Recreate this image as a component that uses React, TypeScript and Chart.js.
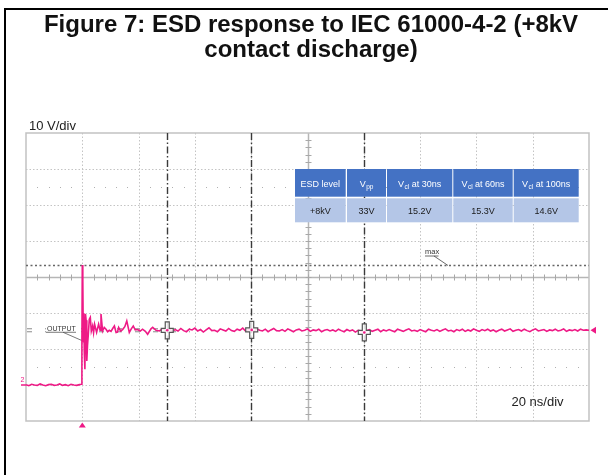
import React, { useEffect, useRef } from 'react';
import { Chart, registerables } from 'chart.js';

Chart.register(...registerables);

// ---------- data ----------
const titleLines = ['Figure 7: ESD response to IEC 61000-4-2 (+8kV', 'contact discharge)'];
const xMin = -20;
const xMax = 180;
const xStep = 20; // ns per division
const yMin = -10;
const yMax = 70;
const yStep = 10; // V per division
const centerTime = 80;
const centerVolt = 30;
const cursorTimes = [30, 60, 100];
const cursorVolts = [15.2, 15.3, 14.6];
const maxVolt = 33.3;
const outputLevel = 15.2;
const dotRowVolts = [5, 55];

const preTriggerStart = -20;
const preTriggerVolts = [0.1, -0.2, 0.2, 0.0, -0.1, 0.3, 0.0, -0.2, 0.1, 0.2, -0.1, 0.0, 0.3, -0.1, 0.1, -0.2, 0.2, 0.0, -0.1, 0.1];

const ringTimes = [-0.36, -0.14, 0, 0.18, 0.36, 0.53, 0.71, 0.92, 1.14, 1.35, 1.6, 1.85, 2.13, 2.49, 2.84, 3.2, 3.66, 4.0, 4.37, 5.08, 5.79, 6.3, 6.64, 7.21, 7.8, 8.42, 9.0, 9.6, 10.2, 10.8, 11.4, 12.0, 12.5, 12.9, 13.6, 14.3, 15.1, 15.8, 16.7, 17.4, 18.1, 18.8, 19.6, 20.6, 21.4, 22.4, 23.2, 24.4, 25.0, 26.2, 27.4, 28.5, 29.4];
const ringVolts = [0.2, 12, 33.3, 28.9, 12, 20, 9, 4.4, 19.7, 18, 6.7, 11, 14, 18.3, 18.8, 15, 16.4, 14.5, 16.9, 14.6, 16.9, 15.2, 19.7, 15.0, 16.0, 15.5, 14.8, 15.2, 14.9, 15.7, 16.4, 14.6, 14.7, 16.0, 15.0, 15.4, 16.2, 17.8, 14.6, 15.6, 16.4, 15.3, 15.4, 15.0, 15.5, 14.9, 14.1, 15.6, 16.0, 15.2, 15.0, 15.6, 15.3];

const settledStart = 30;
const settledVolts = [
  15.2, 15.6, 14.9, 15.4, 15.0, 15.7, 15.1, 14.8, 15.5, 15.3,
  15.8, 15.0, 15.4, 14.7, 15.3, 15.9, 15.1, 15.2, 14.8, 15.6,
  15.3, 15.0, 15.7, 15.1, 14.9, 15.5, 15.2, 15.8, 15.0, 15.4,
  15.3, 14.9, 15.6, 15.2, 15.0, 15.5, 14.8, 15.3, 15.7, 15.1,
  15.0, 15.4, 14.9, 15.6, 15.2, 14.8, 15.3, 15.5, 15.0, 15.2,
  15.6, 14.9, 15.3, 15.1, 15.5, 14.8, 15.2, 15.4, 15.0, 15.3,
  14.9, 15.5, 15.1, 14.8, 15.4, 15.0, 15.3, 14.7, 15.2, 15.0,
  14.6, 15.1, 15.4, 14.9, 15.2, 15.5, 14.8, 15.3, 15.0, 15.4,
  15.1, 14.8, 15.5, 15.2, 14.9, 15.3, 15.6, 15.0, 15.2, 14.9,
  15.4, 15.1, 14.8, 15.5, 15.2, 15.0, 15.4, 14.9, 15.3, 15.6,
  15.0, 15.2, 14.8, 15.4, 15.1, 15.5, 14.9, 15.3, 15.0, 15.6,
  15.2, 14.9, 15.4, 15.1, 15.5, 15.0, 15.3, 14.8, 15.2, 15.5,
  15.0, 15.3, 15.6, 14.9, 15.2, 15.4, 15.0, 15.5, 15.1, 14.8,
  15.3, 15.6, 15.0, 15.2, 15.4, 14.9, 15.3, 15.1, 15.5, 15.0,
  15.2, 15.6, 14.9, 15.3, 15.1, 15.4, 15.0, 15.5, 15.2, 15.3,
  15.2,
];

// table: [main, subscript, rest]
const tableHeaders: [string, string, string][] = [
  ['ESD level', '', ''],
  ['V', 'pp', ''],
  ['V', 'cl', ' at 30ns'],
  ['V', 'cl', ' at 60ns'],
  ['V', 'cl', ' at 100ns'],
];
const tableValues = ['+8kV', '33V', '15.2V', '15.3V', '14.6V'];

const voltLabel = '10 V/div';
const timeLabel = '20 ns/div';
const maxLabel = 'max';
const outputLabel = 'OUTPUT';
const channelLabel = '2';

// ---------- style ----------
const FONT = '"Liberation Sans", Arial, Helvetica, sans-serif';
const PINK = '#ee1a86';

const tracePoints = [
  ...preTriggerVolts.map((v, i) => ({ x: preTriggerStart + i, y: v })),
  ...ringTimes.map((t, i) => ({ x: t, y: ringVolts[i] })),
  ...settledVolts.map((v, i) => ({ x: settledStart + i, y: v })),
];

function line(ctx: CanvasRenderingContext2D, x1: number, y1: number, x2: number, y2: number) {
  ctx.beginPath();
  ctx.moveTo(x1, y1);
  ctx.lineTo(x2, y2);
  ctx.stroke();
}

function drawRich(ctx: CanvasRenderingContext2D, parts: [string, string, string], cx: number, baseline: number, color: string) {
  const mainFont = `9px ${FONT}`;
  const subFont = `6.5px ${FONT}`;
  ctx.font = mainFont;
  const w1 = ctx.measureText(parts[0]).width;
  const w3 = ctx.measureText(parts[2]).width;
  ctx.font = subFont;
  const w2 = parts[1] ? ctx.measureText(parts[1]).width + 0.5 : 0;
  const total = w1 + w2 + w3;
  let x0 = cx - total / 2;
  ctx.fillStyle = color;
  ctx.textAlign = 'left';
  ctx.textBaseline = 'alphabetic';
  ctx.font = mainFont;
  ctx.fillText(parts[0], x0, baseline);
  x0 += w1;
  if (parts[1]) {
    ctx.font = subFont;
    ctx.fillText(parts[1], x0 + 0.5, baseline + 2.5);
    x0 += w2;
  }
  ctx.font = mainFont;
  ctx.fillText(parts[2], x0, baseline);
}

const scopePlugin = {
  id: 'scopeGraticule',
  beforeDatasetsDraw(chart: any) {
    const { ctx, chartArea: a, scales } = chart;
    const xs = scales.x;
    const ys = scales.y;
    ctx.save();

    // outer figure border (top and left)
    ctx.fillStyle = '#000';
    ctx.fillRect(4, 8, 604, 2);
    ctx.fillRect(4, 8, 2, 467);

    // title
    ctx.fillStyle = '#111';
    ctx.font = `bold 24px ${FONT}`;
    ctx.textAlign = 'center';
    ctx.textBaseline = 'alphabetic';
    ctx.fillText(titleLines[0], 311, 31.5);
    ctx.fillText(titleLines[1], 311, 57);

    // dotted grid
    ctx.strokeStyle = '#c4c4c4';
    ctx.lineWidth = 1;
    ctx.setLineDash([1.5, 2]);
    for (let t = xMin + xStep; t < xMax; t += xStep) {
      if (t === centerTime) continue;
      const px = Math.round(xs.getPixelForValue(t)) + 0.5;
      line(ctx, px, a.top, px, a.bottom);
    }
    for (let v = yMin + yStep; v < yMax; v += yStep) {
      if (v === centerVolt) continue;
      const py = Math.round(ys.getPixelForValue(v)) + 0.5;
      line(ctx, a.left, py, a.right, py);
    }
    ctx.setLineDash([]);

    // minor dot rows
    ctx.fillStyle = '#b0b0b0';
    const minorX = xStep / 5;
    for (const v of dotRowVolts) {
      const py = Math.round(ys.getPixelForValue(v));
      for (let t = xMin + minorX; t < xMax; t += minorX) {
        if (Math.abs(t / xStep - Math.round(t / xStep)) < 1e-6) continue;
        ctx.fillRect(Math.round(xs.getPixelForValue(t)), py, 1, 1);
      }
    }

    // center axes with ticks
    const cx = Math.round(xs.getPixelForValue(centerTime)) + 0.5;
    const cy = Math.round(ys.getPixelForValue(centerVolt)) + 0.5;
    ctx.strokeStyle = '#b6b6b6';
    ctx.lineWidth = 1.5;
    line(ctx, a.left, cy, a.right, cy);
    line(ctx, cx, a.top, cx, a.bottom);
    ctx.strokeStyle = '#a8a8a8';
    ctx.lineWidth = 1;
    for (let t = xMin + minorX; t < xMax; t += minorX) {
      const px = Math.round(xs.getPixelForValue(t)) + 0.5;
      line(ctx, px, cy - 3, px, cy + 3);
    }
    const minorY = yStep / 5;
    for (let v = yMin + minorY; v < yMax; v += minorY) {
      const py = Math.round(ys.getPixelForValue(v)) + 0.5;
      line(ctx, cx - 3, py, cx + 3, py);
    }

    // plot frame
    ctx.strokeStyle = '#c2c2c2';
    ctx.lineWidth = 1.5;
    ctx.strokeRect(a.left, a.top, a.right - a.left, a.bottom - a.top);

    // cursors (dash-dot)
    ctx.strokeStyle = '#3a3a3a';
    ctx.lineWidth = 1.4;
    ctx.setLineDash([7, 2.5, 1.5, 2.5]);
    for (const t of cursorTimes) {
      const px = Math.round(xs.getPixelForValue(t)) + 0.5;
      line(ctx, px, a.top, px, a.bottom);
    }

    // max line
    const my = Math.round(ys.getPixelForValue(maxVolt)) + 0.5;
    ctx.strokeStyle = '#666';
    ctx.lineWidth = 1.3;
    ctx.setLineDash([2, 2.5]);
    line(ctx, a.left, my, a.right, my);
    ctx.setLineDash([]);

    // max label with leader
    ctx.fillStyle = '#333';
    ctx.font = `7.5px ${FONT}`;
    ctx.textAlign = 'left';
    ctx.fillText(maxLabel, 425, my - 11.5);
    ctx.strokeStyle = '#444';
    ctx.lineWidth = 0.8;
    line(ctx, 425, my - 9.5, 438.5, my - 9.5);
    line(ctx, 434, my - 9.5, 448, my);

    // output reference marks
    const oy = ys.getPixelForValue(outputLevel);
    ctx.strokeStyle = '#8a8a8a';
    ctx.lineWidth = 1;
    ctx.setLineDash([5, 13]);
    line(ctx, 27, oy - 1.5, 190, oy - 1.5);
    line(ctx, 27, oy + 1.5, 190, oy + 1.5);
    ctx.setLineDash([]);
    ctx.fillStyle = '#fff';
    ctx.fillRect(46, oy - 7, 31, 9);
    ctx.fillStyle = '#333';
    ctx.font = `7px ${FONT}`;
    ctx.fillText(outputLabel, 47, oy + 0.5);
    ctx.strokeStyle = '#555';
    ctx.lineWidth = 0.8;
    line(ctx, 46, oy + 2, 76, oy + 2);
    line(ctx, 63, oy + 2, 87, oy + 12.5);

    ctx.restore();
  },
  afterDatasetsDraw(chart: any) {
    const { ctx, chartArea: a, scales } = chart;
    const xs = scales.x;
    const ys = scales.y;
    ctx.save();

    // cursor crosshair markers
    cursorTimes.forEach((t, i) => {
      const px = xs.getPixelForValue(t) + 0.5;
      const py = ys.getPixelForValue(cursorVolts[i]);
      const hw = 6, hh = 8.5, th = 2;
      ctx.beginPath();
      ctx.moveTo(px - th, py - hh);
      ctx.lineTo(px + th, py - hh);
      ctx.lineTo(px + th, py - th);
      ctx.lineTo(px + hw, py - th);
      ctx.lineTo(px + hw, py + th);
      ctx.lineTo(px + th, py + th);
      ctx.lineTo(px + th, py + hh);
      ctx.lineTo(px - th, py + hh);
      ctx.lineTo(px - th, py + th);
      ctx.lineTo(px - hw, py + th);
      ctx.lineTo(px - hw, py - th);
      ctx.lineTo(px - th, py - th);
      ctx.closePath();
      ctx.fillStyle = 'rgba(255,255,255,0.85)';
      ctx.fill();
      ctx.strokeStyle = '#555';
      ctx.lineWidth = 1.2;
      ctx.stroke();
      ctx.fillStyle = PINK;
      ctx.beginPath();
      ctx.arc(px, py, 1.3, 0, Math.PI * 2);
      ctx.fill();
    });

    // trigger marker (bottom)
    const tx = xs.getPixelForValue(0);
    ctx.fillStyle = PINK;
    ctx.beginPath();
    ctx.moveTo(tx, a.bottom + 1.5);
    ctx.lineTo(tx - 3.5, a.bottom + 6.5);
    ctx.lineTo(tx + 3.5, a.bottom + 6.5);
    ctx.closePath();
    ctx.fill();

    // right edge marker
    const ry = ys.getPixelForValue(outputLevel);
    ctx.beginPath();
    ctx.moveTo(a.right + 1.5, ry);
    ctx.lineTo(a.right + 7, ry - 3.5);
    ctx.lineTo(a.right + 7, ry + 3.5);
    ctx.closePath();
    ctx.fill();

    // channel marker
    const gy = ys.getPixelForValue(0);
    ctx.strokeStyle = PINK;
    ctx.lineWidth = 1.5;
    line(ctx, 21, gy, a.left, gy);
    ctx.font = `7px ${FONT}`;
    ctx.textAlign = 'left';
    ctx.fillText(channelLabel, 20.5, gy - 3);

    // table
    const colL = [295, 347, 387, 453.3, 513.7];
    const colR = [345.7, 386, 452.3, 512.7, 578.7];
    const headT = 169, headB = 196.7, rowT = 198.3, rowB = 222.3;
    for (let i = 0; i < colL.length; i++) {
      ctx.fillStyle = '#4472c4';
      ctx.fillRect(colL[i], headT, colR[i] - colL[i], headB - headT);
      ctx.fillStyle = '#b4c6e7';
      ctx.fillRect(colL[i], rowT, colR[i] - colL[i], rowB - rowT);
      const ccx = (colL[i] + colR[i]) / 2;
      drawRich(ctx, tableHeaders[i], ccx, 186.5, '#ffffff');
      ctx.font = `9px ${FONT}`;
      ctx.fillStyle = '#1a1a1a';
      ctx.textAlign = 'center';
      ctx.fillText(tableValues[i], ccx, 213.5);
    }

    // scale labels
    ctx.fillStyle = '#222';
    ctx.font = `13px ${FONT}`;
    ctx.textAlign = 'left';
    ctx.fillText(voltLabel, 29, 130);
    ctx.fillText(timeLabel, 511.5, 406);

    ctx.restore();
  },
};

export default function App() {
  const canvasRef = useRef<HTMLCanvasElement | null>(null);

  useEffect(() => {
    const canvas = canvasRef.current;
    if (!canvas) return;
    const chart = new Chart(canvas, {
      type: 'line',
      data: {
        datasets: [
          {
            data: tracePoints,
            borderColor: PINK,
            borderWidth: 1.6,
            pointRadius: 0,
            tension: 0,
            fill: false,
          },
        ],
      },
      options: {
        animation: false,
        responsive: false,
        devicePixelRatio: 1,
        parsing: true,
        layout: { padding: { left: 26, top: 133, right: 26, bottom: 54 } },
        plugins: {
          legend: { display: false },
          title: { display: false },
          tooltip: { enabled: false },
        },
        scales: {
          x: { type: 'linear', min: xMin, max: xMax, display: false },
          y: { type: 'linear', min: yMin, max: yMax, display: false },
        },
      },
      plugins: [scopePlugin],
    });
    return () => chart.destroy();
  }, []);

  return (
    <div style={{ position: 'fixed', left: 0, top: 0, width: 615, height: 475, background: '#fff' }}>
      <canvas ref={canvasRef} width={615} height={475} style={{ display: 'block' }} />
    </div>
  );
}
